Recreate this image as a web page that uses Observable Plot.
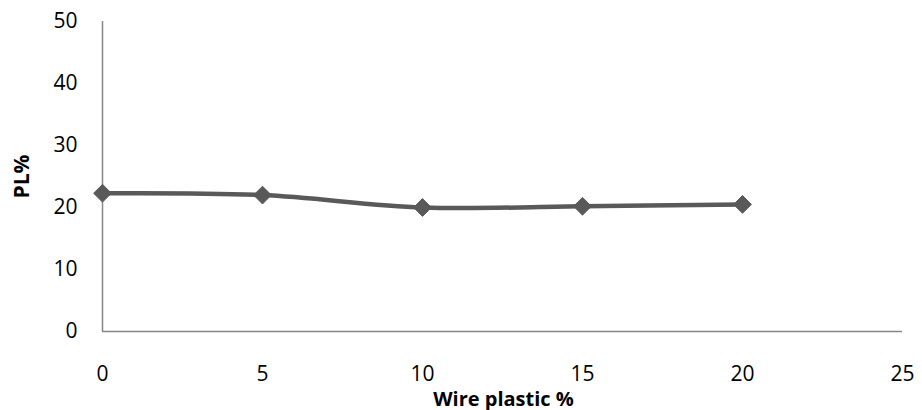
<!DOCTYPE html>
<html>
<head>
<meta charset="utf-8">
<script src="https://cdn.jsdelivr.net/npm/d3@7"></script>
<script src="https://cdn.jsdelivr.net/npm/@observablehq/plot@0.6"></script>
<style>
  body { margin: 0; background: #fff; }
  #chart svg { font-family: "Open Sans", Lato, sans-serif; }
</style>
</head>
<body>
<div id="chart"></div>
<script>
// Wire plastic content (%) and the measured PL%
const wirePlastic = [0, 5, 10, 15, 20];
const plPercent = [22.3, 22.0, 20.0, 20.2, 20.5];
const xTicks = [0, 5, 10, 15, 20, 25];
const yTicks = [0, 10, 20, 30, 40, 50];
const xTitle = "Wire plastic %";
const yTitle = "PL%";

const data = wirePlastic.map((x, i) => ({x, y: plPercent[i]}));

const lineColor = "#595959";
const axisColor = "#868686";

const chart = Plot.plot({
  width: 922,
  height: 410,
  marginLeft: 102,
  marginRight: 20,
  marginTop: 21,
  marginBottom: 79,
  style: {fontSize: "21px", fontFamily: "'Open Sans', Lato, sans-serif", color: "#000", background: "#fff"},
  x: {domain: [0, 25]},
  y: {domain: [0, 50]},
  marks: [
    Plot.axisX({ticks: xTicks, tickSize: 0, tickPadding: 35, label: null, fontSize: 21, fill: "#000"}),
    Plot.axisY({ticks: yTicks, tickSize: 0, tickPadding: 25, label: null, fontSize: 21, fill: "#000"}),
    Plot.ruleY([0], {stroke: axisColor, strokeWidth: 1.5}),
    Plot.ruleX([0], {stroke: axisColor, strokeWidth: 1.5}),
    Plot.line(data, {x: "x", y: "y", stroke: lineColor, strokeWidth: 4.5, curve: "catmull-rom"}),
    Plot.dot(data, {x: "x", y: "y", symbol: "diamond2", r: 8, fill: lineColor, stroke: lineColor, strokeWidth: 1}),
    Plot.text([xTitle], {frameAnchor: "bottom", dx: 1, dy: 74, fontWeight: "bold", fontSize: 20, fill: "#000"}),
    Plot.text([yTitle], {frameAnchor: "left", textAnchor: "middle", dx: -80, rotate: -90, fontWeight: "bold", fontSize: 21, fill: "#000"})
  ]
});

document.getElementById("chart").append(chart);
</script>
</body>
</html>
